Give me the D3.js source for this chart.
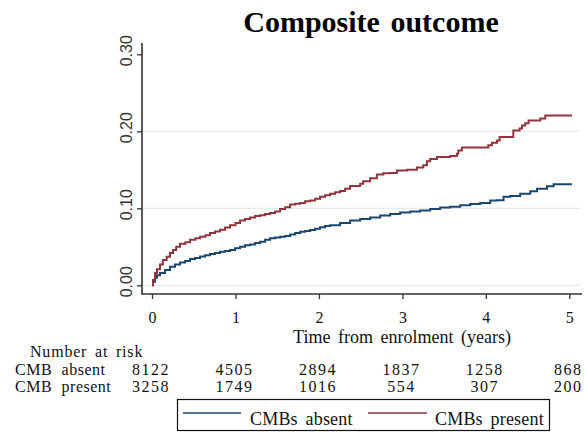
<!DOCTYPE html>
<html>
<head>
<meta charset="utf-8">
<script src="https://cdn.jsdelivr.net/npm/d3@7"></script>
<style>
  html, body { margin: 0; padding: 0; background: #fff; }
  svg { display: block; }
  .serif { font-family: "Liberation Serif", "Times New Roman", serif; fill: #111; }
</style>
</head>
<body>
<script>
// Cumulative incidence of the composite outcome, by cerebral microbleed status
const seriesNames = ["CMBs absent", "CMBs present"];
const seriesColors = ["#1a476f", "#90353b"];

// Step-curve event times (years) and cumulative incidence
const absentTime = [0, 0.012, 0.036, 0.06, 0.096, 0.156, 0.216, 0.276, 0.336, 0.396, 0.456, 0.516, 0.576, 0.636, 0.695, 0.755, 0.815, 0.875, 0.935, 0.995, 1.055, 1.115, 1.175, 1.235, 1.295, 1.355, 1.415, 1.475, 1.535, 1.595, 1.655, 1.715, 1.775, 1.835, 1.895, 1.955, 2.014, 2.074, 2.134, 2.254, 2.374, 2.494, 2.614, 2.734, 2.854, 2.974, 3.094, 3.213, 3.333, 3.453, 3.573, 3.693, 3.813, 3.933, 4.053, 4.133, 4.212, 4.293, 4.412, 4.532, 4.613, 4.733, 4.812, 5.032];
const absentValue = [0, 0.0045, 0.0097, 0.013, 0.016, 0.020, 0.024, 0.027, 0.0295, 0.0317, 0.0343, 0.0356, 0.0373, 0.039, 0.0407, 0.042, 0.0437, 0.0446, 0.0459, 0.048, 0.050, 0.052, 0.053, 0.055, 0.0567, 0.059, 0.061, 0.062, 0.063, 0.064, 0.066, 0.068, 0.0696, 0.0705, 0.0718, 0.0735, 0.0753, 0.077, 0.078, 0.081, 0.084, 0.086, 0.088, 0.0905, 0.0925, 0.0945, 0.096, 0.097, 0.099, 0.101, 0.102, 0.104, 0.1055, 0.107, 0.110, 0.1105, 0.115, 0.116, 0.119, 0.122, 0.1255, 0.1285, 0.1313, 0.1313];

const presentTime = [0, 0.012, 0.036, 0.06, 0.096, 0.13, 0.176, 0.216, 0.252, 0.29, 0.336, 0.40, 0.456, 0.52, 0.576, 0.64, 0.695, 0.755, 0.815, 0.875, 0.935, 1.0, 1.055, 1.115, 1.175, 1.235, 1.295, 1.355, 1.415, 1.475, 1.535, 1.595, 1.655, 1.715, 1.775, 1.835, 1.895, 1.955, 2.014, 2.074, 2.134, 2.194, 2.254, 2.314, 2.374, 2.494, 2.53, 2.614, 2.694, 2.77, 2.854, 2.934, 3.054, 3.174, 3.25, 3.294, 3.333, 3.414, 3.573, 3.653, 3.67, 3.713, 4.029, 4.073, 4.133, 4.165, 4.329, 4.404, 4.433, 4.472, 4.512, 4.652, 4.712, 5.032];
const presentValue = [0, 0.007, 0.016, 0.021, 0.027, 0.033, 0.037, 0.042, 0.046, 0.050, 0.054, 0.056, 0.059, 0.061, 0.063, 0.065, 0.068, 0.070, 0.072, 0.075, 0.078, 0.081, 0.084, 0.086, 0.088, 0.090, 0.091, 0.0925, 0.094, 0.096, 0.099, 0.1015, 0.105, 0.106, 0.107, 0.109, 0.110, 0.1125, 0.115, 0.117, 0.119, 0.121, 0.1225, 0.1255, 0.129, 0.132, 0.135, 0.139, 0.144, 0.1455, 0.146, 0.149, 0.150, 0.153, 0.156, 0.161, 0.164, 0.1665, 0.168, 0.171, 0.175, 0.179, 0.182, 0.185, 0.188, 0.1925, 0.201, 0.2035, 0.2075, 0.2105, 0.214, 0.2165, 0.2205, 0.2205];

// Axis ticks
const xTicks = [0, 1, 2, 3, 4, 5];
const yTicks = [0, 0.1, 0.2, 0.3];
const gridTicks = [0, 0.1, 0.2];

// Number at risk table
const riskTimes = [0, 1, 2, 3, 4, 5];
const riskLabels = ["CMB absent", "CMB present"];
const riskAbsent = [8122, 4505, 2894, 1837, 1258, 868];
const riskPresent = [3258, 1749, 1016, 554, 307, 200];

const W = 587, H = 434;
const svg = d3.select("body").append("svg").attr("width", W).attr("height", H);

const frame = { left: 142, right: 582, top: 43, bottom: 294 };
const x = d3.scaleLinear().domain([0, 5]).range([152, 569.3]);
const y = d3.scaleLinear().domain([0, 0.3]).range([285.3, 54.3]);

// Title
svg.append("text").attr("class", "serif")
  .attr("x", 371).attr("y", 31.5)
  .attr("text-anchor", "middle")
  .style("font-size", "30px").style("font-weight", "bold").style("fill", "#000")
  .style("word-spacing", "3px")
  .text("Composite outcome");

// Gridlines
svg.append("g").selectAll("line").data(gridTicks).join("line")
  .attr("x1", frame.left + 1).attr("x2", 580)
  .attr("y1", d => y(d)).attr("y2", d => y(d))
  .attr("stroke", "#e3eaec").attr("stroke-width", 1.3);

// Y axis
const yAxis = svg.append("g").attr("transform", `translate(${frame.left},0)`)
  .call(d3.axisLeft(y).tickValues(yTicks).tickFormat(d3.format(".2f")).tickSize(5).tickPadding(0));
yAxis.select(".domain").remove();
yAxis.selectAll(".tick line").attr("stroke", "#333").attr("stroke-width", 1.3);
yAxis.selectAll(".tick text")
  .attr("transform", "translate(-10,-4) rotate(-90)")
  .attr("x", 0).attr("y", 0).attr("dy", 0)
  .attr("text-anchor", "middle")
  .style("font-family", "'Liberation Sans', Arial, sans-serif")
  .style("font-size", "16px").style("fill", "#333");

// X axis
const xAxis = svg.append("g").attr("transform", `translate(0,${frame.bottom})`)
  .call(d3.axisBottom(x).tickValues(xTicks).tickFormat(d3.format("d")).tickSize(5).tickPadding(0));
xAxis.select(".domain").remove();
xAxis.selectAll(".tick line").attr("stroke", "#333").attr("stroke-width", 1.3);
xAxis.selectAll(".tick text")
  .attr("y", 28.5).attr("dy", 0)
  .attr("class", "serif")
  .style("font-size", "16px");

// Frame lines (left and bottom)
svg.append("path")
  .attr("d", `M${frame.left},${frame.top}V${frame.bottom}H${frame.right}`)
  .attr("fill", "none").attr("stroke", "#333").attr("stroke-width", 1.6);

// X axis title
svg.append("text").attr("class", "serif")
  .attr("x", 402).attr("y", 343)
  .attr("text-anchor", "middle")
  .style("font-size", "18px").style("word-spacing", "3px")
  .text("Time from enrolment (years)");

// Curves
const line = d3.line().curve(d3.curveStepAfter).x(d => x(d[0])).y(d => y(d[1]));
const curves = [
  d3.zip(absentTime, absentValue),
  d3.zip(presentTime, presentValue)
];
svg.append("g").selectAll("path").data(curves).join("path")
  .attr("d", line)
  .attr("fill", "none")
  .attr("stroke", (d, i) => seriesColors[i])
  .attr("stroke-width", 2);

// Number at risk table
const table = svg.append("g");
table.append("text").attr("class", "serif")
  .attr("x", 30).attr("y", 357)
  .style("font-size", "16px").style("letter-spacing", "0.8px").style("word-spacing", "3px")
  .text("Number at risk");
const rows = [riskAbsent, riskPresent];
rows.forEach((vals, r) => {
  const yy = 374.7 + r * 17.7;
  table.append("text").attr("class", "serif")
    .attr("x", 15).attr("y", yy)
    .style("font-size", "16px").style("letter-spacing", "0.5px").style("word-spacing", "5px")
    .text(riskLabels[r]);
  table.append("g").selectAll("text").data(vals).join("text")
    .attr("class", "serif")
    .attr("x", (d, i) => x(riskTimes[i]) - 1)
    .attr("y", yy)
    .attr("text-anchor", "middle")
    .style("font-size", "16px").style("letter-spacing", "1.5px")
    .text(d => d);
});

// Legend
const legend = svg.append("g");
legend.append("rect")
  .attr("x", 177.5).attr("y", 399.5).attr("width", 372).attr("height", 31)
  .attr("fill", "#fff").attr("stroke", "#111").attr("stroke-width", 1.2);
const legendItems = [
  { x1: 183, x2: 241, tx: 250 },
  { x1: 368, x2: 427, tx: 435 }
];
legendItems.forEach((it, i) => {
  legend.append("line")
    .attr("x1", it.x1).attr("x2", it.x2).attr("y1", 413).attr("y2", 413)
    .attr("stroke", seriesColors[i]).attr("stroke-width", 1.5);
  legend.append("text").attr("class", "serif")
    .attr("x", it.tx).attr("y", 425)
    .style("font-size", "18px").style("word-spacing", "3px").style("letter-spacing", "0.2px")
    .text(seriesNames[i]);
});
</script>
</body>
</html>
